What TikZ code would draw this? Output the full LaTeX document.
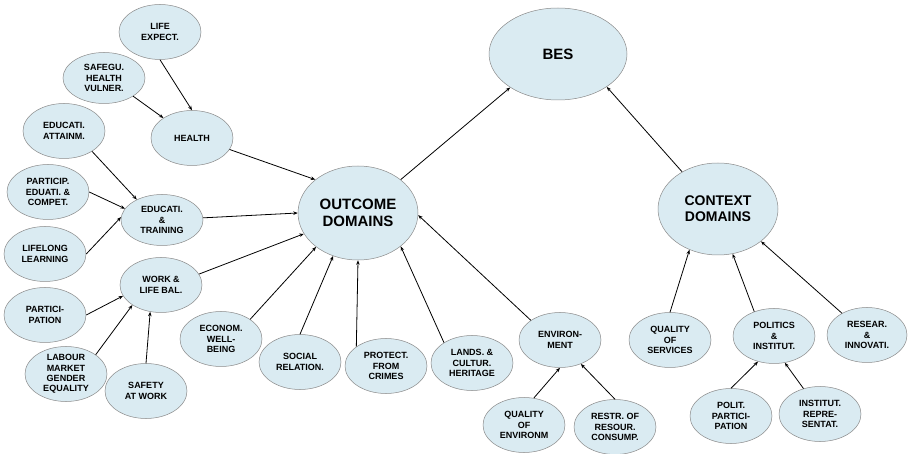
\documentclass[tikz,border=0pt]{standalone}
\usepackage{fontspec}
\setmainfont{Liberation Sans}
\usetikzlibrary{shapes.geometric,arrows.meta}
\definecolor{bubc}{HTML}{DAEBF2}
\definecolor{bord}{HTML}{8A8A8A}
\tikzset{
  bub/.style={ellipse, draw=bord, line width=0.5pt, fill=bubc, inner sep=0pt, align=center,
    font=\fontsize{9}{10.5}\selectfont\bfseries, minimum width=82pt, minimum height=55pt},
  bigb/.style={font=\fontsize{15}{17}\selectfont\bfseries},
  arr/.style={-{Stealth[length=4.5pt,width=3.5pt]}, line width=0.8pt, black}
}
\begin{document}
\begin{tikzpicture}[x=1pt,y=-1pt]
\useasboundingbox (0,0) rectangle (908,454);
% main
\node[bub,bigb,minimum width=138pt,minimum height=92pt] (bes) at (558,54) {BES};
\node[bub,bigb,minimum width=120pt,minimum height=94pt] (out) at (358,213) {OUTCOME\\DOMAINS};
\node[bub,bigb,minimum width=120pt,minimum height=92pt,font=\fontsize{14}{16}\selectfont\bfseries] (ctx) at (718,209) {CONTEXT\\DOMAINS};
% left
\node[bub] (life) at (160,32) {LIFE\\EXPECT.};
\node[bub,minimum height=51pt] (safe) at (104,78) {SAFEGU.\\HEALTH\\VULNER.};
\node[bub] (health) at (192,138) {HEALTH};
\node[bub] (attain) at (64,131) {EDUCATI.\\ATTAINM.};
\node[bub] (partic) at (48,192) {PARTICIP.\\EDUATI. \&\\COMPET.};
\node[bub,minimum height=51pt] (edu) at (162,220) {EDUCATI.\\\&\\TRAINING};
\node[bub] (lifelong) at (45,254) {LIFELONG\\LEARNING};
\node[bub] (work) at (161,285) {WORK \&\\LIFE BAL.};
\node[bub] (partici) at (45,315) {PARTICI-\\PATION};
\node[bub,font=\fontsize{9}{10.2}\selectfont\bfseries] (labour) at (66,374) {LABOUR\\MARKET\\GENDER\\EQUALITY};
\node[bub] (safety) at (146,391) {SAFETY\\AT WORK};
% bottom
\node[bub] (econ) at (221,339) {ECONOM.\\WELL-\\BEING};
\node[bub] (social) at (300,362) {SOCIAL\\RELATION.};
\node[bub] (protect) at (386,366) {PROTECT.\\FROM\\CRIMES};
\node[bub] (lands) at (472,363) {LANDS. \&\\CULTUR.\\HERITAGE};
\node[bub] (env) at (560,340) {ENVIRON-\\MENT};
\node[bub] (qenv) at (524,425) {QUALITY\\OF\\ENVIRONM};
\node[bub] (restr) at (615,427) {RESTR. OF\\RESOUR.\\CONSUMP.};
% right
\node[bub] (qserv) at (670,340) {QUALITY\\OF\\SERVICES};
\node[bub] (polit) at (774,336) {POLITICS\\\&\\INSTITUT.};
\node[bub,minimum width=80pt] (resear) at (867,335) {RESEAR.\\\&\\INNOVATI.};
\node[bub] (ppart) at (731,416) {POLIT.\\PARTICI-\\PATION};
\node[bub] (irep) at (820,414) {INSTITUT.\\REPRE-\\SENTAT.};
% arrows
\draw[arr] (life.south) -- (health.north);
\draw[arr] (safe.-32) -- (health.145);
\draw[arr] (health.-17) -- (out.142);
\draw[arr] (attain.-36) -- (edu.141);
\draw[arr] (partic.east) -- (edu.163);
\draw[arr] (lifelong.east) -- (edu.176);
\draw[arr] (edu.3) -- (out.180);
\draw[arr] (work.16) -- (out.-159);
\draw[arr] (partici.east) -- (work.-164);
\draw[arr] (labour.33) -- (work.-145);
\draw[arr] (safety.north) -- (work.-112);
\draw[arr] (econ.34) -- (out.-141);
\draw[arr] (social.north) -- (out.-120);
\draw[arr] (protect.147) -- (out.-90);
\draw[arr] (lands.144) -- (out.-38);
\draw[arr] (env.146) -- (out.-2);
\draw[arr] (qenv.70) -- (env.-90);
\draw[arr] (restr.north) -- (env.-49);
\draw[arr] (out.38) -- (bes.-145);
\draw[arr] (ctx.134) -- (bes.-34);
\draw[arr] (qserv.north) -- (ctx.-125);
\draw[arr] (polit.129) -- (ctx.-72);
\draw[arr] (resear.139) -- (ctx.-37);
\draw[arr] (ppart.north) -- (polit.-122);
\draw[arr] (irep.123) -- (polit.-68);
\end{tikzpicture}
\end{document}
